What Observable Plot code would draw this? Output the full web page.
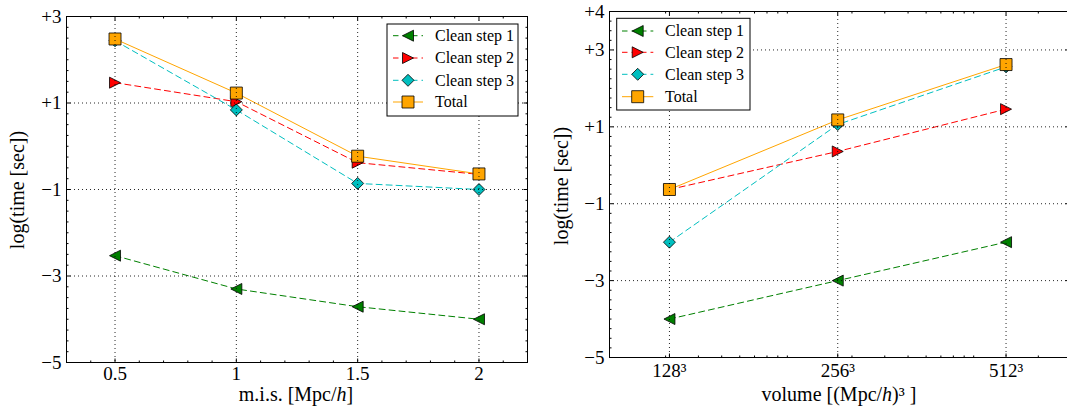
<!DOCTYPE html>
<html><head><meta charset="utf-8">
<script src="https://cdn.jsdelivr.net/npm/d3@7"></script>
<script src="https://cdn.jsdelivr.net/npm/@observablehq/plot@0.6"></script>
<style>
html,body{margin:0;padding:0;background:#fff;}
#wrap{position:relative;width:1067px;height:407px;overflow:hidden;background:#fff;}
#wrap > svg{position:absolute;top:0;}
</style></head><body><div id="wrap"></div>
<script>
// ---- data ----
const seriesNames = ["Clean step 1", "Clean step 2", "Clean step 3", "Total"];
const seriesColors = ["#008000", "#ff0000", "#00bfbf", "#ffa500"];

const misValues = [0.5, 1, 1.5, 2];
const misStep1 = [-2.53, -3.30, -3.71, -4.00];
const misStep2 = [1.47, 1.03, -0.38, -0.65];
const misStep3 = [2.44, 0.84, -0.86, -1.00];
const misTotal = [2.48, 1.23, -0.23, -0.64];

const volValues = [128 ** 3, 256 ** 3, 512 ** 3];
const volLabels = ["128³", "256³", "512³"];
const volStep1 = [-4.00, -3.00, -2.00];
const volStep2 = [-0.63, 0.36, 1.46];
const volStep3 = [-2.00, 1.06, 2.56];
const volTotal = [-0.63, 1.18, 2.62];

const misTicks = [0.5, 1, 1.5, 2];
const misTickLabels = ["0.5", "1", "1.5", "2"];
const leftYTicks = [-5, -3, -1, 1, 3];
const rightYTicks = [-5, -3, -1, 1, 3, 4];

// ---- helpers ----
const FONT = "Liberation Serif";
const TICK_FS = 19;
const fmtY = d => (d > 0 ? "+" : "\u2212") + Math.abs(d);

function mkTri(dir, s) { // matplotlib-like isoceles triangle, width = height = s
  const h = s / 2;
  return {draw(c) {
    if (dir === "left") { c.moveTo(-h, 0); c.lineTo(h, -h); c.lineTo(h, h); }
    else { c.moveTo(h, 0); c.lineTo(-h, -h); c.lineTo(-h, h); }
    c.closePath();
  }};
}
function mkDiamond(s) { const h = s / 2; return {draw(c) { c.moveTo(0, -h); c.lineTo(h, 0); c.lineTo(0, h); c.lineTo(-h, 0); c.closePath(); }}; }
function mkSquare(s) { const h = s / 2; return {draw(c) { c.rect(-h, -h, s, s); }}; }
function lineSym(dx, dy) { return {draw(c) { c.moveTo(0, 0); c.lineTo(dx, dy); }}; }

const seriesSymbols = [mkTri("left", 11), mkTri("right", 11), mkDiamond(12), mkSquare(12)];
const seriesDash = ["6,4", "6,4", "6,4", null];

function seriesMarks(xs, ys, i) {
  const data = xs.map((x, k) => ({x, y: ys[k]}));
  const lineOpts = {x: "x", y: "y", stroke: seriesColors[i], strokeWidth: 1};
  if (seriesDash[i]) lineOpts.strokeDasharray = seriesDash[i];
  return [
    Plot.line(data, lineOpts),
    Plot.dot(data, {x: "x", y: "y", symbol: seriesSymbols[i], fill: seriesColors[i], stroke: "black", strokeWidth: 0.8, r: 5})
  ];
}

function tickMarks(xMajor, xMinor, yMajor, yMinor, xDom, yDom) {
  const out = [];
  const add = (data, xf, yf, sym) => out.push(Plot.dot(data, {x: xf, y: yf, symbol: sym, stroke: "black", strokeWidth: 1, fill: "none", r: 1}));
  for (const [arr, len] of [[xMajor, 4], [xMinor, 2]]) {
    add(arr, d => d, () => yDom[0], lineSym(0, -len));
    add(arr, d => d, () => yDom[1], lineSym(0, len));
  }
  for (const [arr, len] of [[yMajor, 4], [yMinor, 2]]) {
    add(arr, () => xDom[0], d => d, lineSym(len, 0));
    add(arr, () => xDom[1], d => d, lineSym(-len, 0));
  }
  return out;
}

function tickLabels(xTicks, xFmt, xDy, yTicks, xDom, yDom) {
  return [
    Plot.text(xTicks, {x: d => d, y: () => yDom[0], text: xFmt, dy: xDy, fontSize: TICK_FS, fontFamily: FONT, fill: "black", textAnchor: "middle", lineAnchor: "middle"}),
    Plot.text(yTicks, {x: () => xDom[0], y: d => d, text: fmtY, dx: -5, fontSize: TICK_FS, fontFamily: FONT, fill: "black", textAnchor: "end", lineAnchor: "middle"})
  ];
}

function addLegend(svg, box, rows, s1, s2, mx, tx) {
  const g = d3.select(svg).append("g").attr("text-anchor", "start");
  g.append("rect").attr("x", box[0]).attr("y", box[1]).attr("width", box[2]).attr("height", box[3])
    .attr("fill", "white").attr("stroke", "black").attr("stroke-width", 1);
  rows.forEach((y, i) => {
    const ln = g.append("line").attr("x1", s1).attr("x2", s2).attr("y1", y).attr("y2", y)
      .attr("stroke", seriesColors[i]).attr("stroke-width", 1);
    if (seriesDash[i]) ln.attr("stroke-dasharray", "5.5,4");
    g.append("path").attr("d", d3.symbol(seriesSymbols[i])()).attr("transform", `translate(${mx},${y})`)
      .attr("fill", seriesColors[i]).attr("stroke", "black").attr("stroke-width", 0.8);
    g.append("text").attr("x", tx).attr("y", y).attr("dy", "0.33em").attr("text-anchor", "start")
      .attr("font-size", 16).attr("font-family", FONT)
      .style("font-size", "16px").style("font-family", FONT).attr("fill", "black").text(seriesNames[i]);
  });
}

function addLabels(svg, xl, yl, xParts) {
  const sel = d3.select(svg);
  const t = sel.append("text").attr("x", xl[0]).attr("y", xl[1]).attr("text-anchor", "middle")
    .style("font-size", "20px").style("font-family", FONT).attr("fill", "black");
  xParts.forEach(([txt, it]) => { const ts = t.append("tspan").text(txt); if (it) ts.attr("font-style", "italic"); });
  sel.append("text").attr("transform", `translate(${yl[0]},${yl[1]}) rotate(-90)`).attr("text-anchor", "middle")
    .style("font-size", "20px").style("font-family", FONT).attr("fill", "black").text("log(time [sec])");
}

const gridStyle = {stroke: "black", strokeOpacity: 0.85, strokeDasharray: "1,3", strokeWidth: 1};
const wrap = document.getElementById("wrap");

// ---- left panel ----
{
  const xDom = [0.3, 2.2], yDom = [-5, 3];
  const xMinor = d3.range(3, 23).map(v => v / 10).filter(v => !misTicks.some(t => Math.abs(t - v) < 1e-9));
  const yMinor = d3.range(-20, 13).map(v => v / 4).filter(v => !leftYTicks.includes(v));
  const plot = Plot.plot({
    width: 540, height: 407,
    marginLeft: 66, marginRight: 13, marginTop: 16, marginBottom: 45,
    style: {fontFamily: FONT, color: "black", background: "transparent", overflow: "visible"},
    x: {type: "linear", domain: xDom, axis: null},
    y: {domain: yDom, axis: null},
    marks: [
      ...seriesMarks(misValues, misStep1, 0),
      ...seriesMarks(misValues, misStep2, 1),
      ...seriesMarks(misValues, misStep3, 2),
      ...seriesMarks(misValues, misTotal, 3),
      Plot.gridX(misTicks, gridStyle),
      Plot.gridY([-3, -1, 1], gridStyle),
      ...tickMarks(misTicks, xMinor, leftYTicks, yMinor, xDom, yDom),
      Plot.frame({stroke: "black", strokeWidth: 1}),
      ...tickLabels(misTicks, d => misTickLabels[misTicks.indexOf(d)], 11, leftYTicks, xDom, yDom)
    ]
  });
  plot.style.left = "0px";
  wrap.appendChild(plot);
  addLegend(plot, [387, 24, 131, 92], [35.7, 58, 80.3, 102], 393, 423, 408, 435);
  addLabels(plot, [296, 401], [24, 190], [["m.i.s. [Mpc/", false], ["h", true], ["]", false]]);
}

// ---- right panel ----
{
  const xDom = [1e6, 2.94e8], yDom = [-5, 4];
  const xMinor = [];
  for (let k = 6; k <= 8; k++) for (let m = 2; m <= 9; m++) { const v = m * 10 ** k; if (v > xDom[0] && v < xDom[1]) xMinor.push(v); }
  const yMinor = d3.range(-20, 17).map(v => v / 4).filter(v => !rightYTicks.includes(v));
  const plot = Plot.plot({
    width: 535, height: 407,
    marginLeft: 69, marginRight: 6, marginTop: 11, marginBottom: 50,
    style: {fontFamily: FONT, color: "black", background: "transparent", overflow: "visible"},
    x: {type: "log", domain: xDom, axis: null},
    y: {domain: yDom, axis: null},
    marks: [
      ...seriesMarks(volValues, volStep1, 0),
      ...seriesMarks(volValues, volStep2, 1),
      ...seriesMarks(volValues, volStep3, 2),
      ...seriesMarks(volValues, volTotal, 3),
      Plot.gridX(volValues, gridStyle),
      Plot.gridY([-3, -1, 1, 3], gridStyle),
      ...tickMarks(volValues, xMinor, rightYTicks, yMinor, xDom, yDom),
      Plot.frame({stroke: "black", strokeWidth: 1}),
      ...tickLabels(volValues, d => volLabels[volValues.indexOf(d)], 13.5, rightYTicks, xDom, yDom)
    ]
  });
  plot.style.left = "540px";
  wrap.appendChild(plot);
  addLegend(plot, [76.7, 18.3, 133.3, 91.7], [31, 52.3, 74.3, 96.7], 82, 113.3, 97.7, 125);
  addLabels(plot, [299, 401], [28, 186], [["volume [(Mpc/", false], ["h", true], [")³ ]", false]]);
}
</script></body></html>
